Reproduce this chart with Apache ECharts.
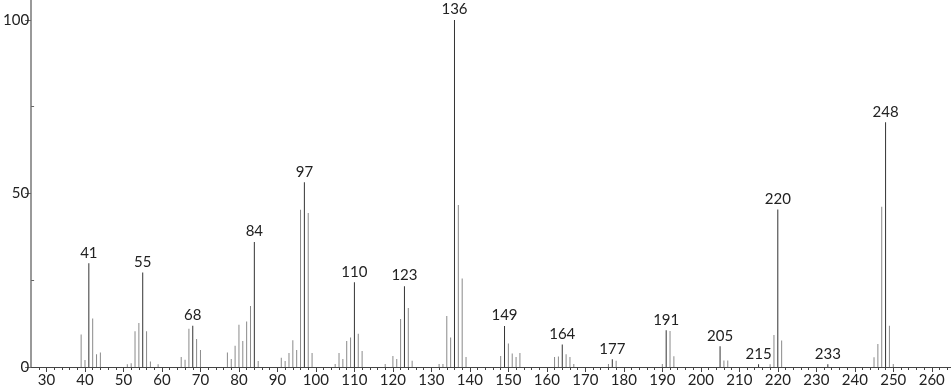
<!DOCTYPE html>
<html>
<head>
<meta charset="utf-8">
<script src="https://cdn.jsdelivr.net/npm/echarts@6/dist/echarts.min.js"></script>
<style>
html,body{margin:0;padding:0;background:#fff;}
#c{width:951px;height:389px;}
</style>
</head>
<body>
<div id="c"></div>
<script>
const mz = [39,40,41,42,43,44,51,52,53,54,55,56,57,59,65,66,67,68,69,70,77,78,79,80,81,82,83,84,85,91,92,93,94,95,96,97,98,99,105,106,107,108,109,110,111,112,118,120,121,122,123,124,125,132,133,134,135,136,137,138,139,148,149,150,151,152,153,162,163,164,165,166,167,176,177,178,190,191,192,193,205,206,207,215,218,219,220,221,233,245,246,247,248,249,250];
const intensity = [9.4,2.0,29.9,14.0,3.7,4.2,0.8,1.1,10.3,12.7,27.2,10.3,1.6,0.8,2.9,2.1,11.0,11.9,8.1,4.9,4.2,2.3,6.1,12.2,7.5,13.1,17.6,36.0,1.7,2.7,1.7,4.0,7.7,4.9,45.3,53.2,44.4,4.0,0.9,4.0,2.3,7.5,8.5,24.4,9.6,4.6,0.9,3.2,2.3,13.8,23.3,17.0,1.8,0.9,0.9,14.7,8.5,100,46.7,25.5,2.9,3.2,11.8,6.8,3.9,2.9,4.0,2.9,3.0,6.5,3.7,2.9,0.9,0.9,2.2,1.8,0.9,10.6,10.4,3.1,6.0,1.9,1.9,0.8,0.8,9.2,45.4,7.6,0.8,2.8,6.6,46.2,70.5,11.9,0.9];
const labeledPeaks = [41,55,68,84,97,110,123,136,149,164,177,191,205,215,220,233,248];
const xTickLabels = [30,40,50,60,70,80,90,100,110,120,130,140,150,160,170,180,190,200,210,220,230,240,250,260];
const yTickLabels = [0,50,100];
const yMinorTicks = [25,75];

const xMinor = [];
for (let v = 28; v <= 264; v += 2) if (v % 10 !== 0) xMinor.push(v);

const FONT = 'Lato';
const data = mz.map((m, i) => {
  const lab = labeledPeaks.indexOf(m) >= 0;
  return {
    value: [m, intensity[i]],
    itemStyle: { color: lab ? '#333' : '#8a8a8a' },
    label: { show: lab }
  };
});

const chart = echarts.init(document.getElementById('c'), null, {renderer: 'canvas'});
chart.setOption({
  animation: false,
  backgroundColor: '#fff',
  grid: { left: 29, right: 0, top: 0, bottom: 22, containLabel: false },
  xAxis: [{
    type: 'value', min: 26, max: 265,
    axisLine: { show: true, lineStyle: { color: '#444', width: 1 } },
    axisTick: { show: true, length: 5, customValues: xTickLabels, lineStyle: { color: '#444' } },
    axisLabel: { customValues: xTickLabels, color: '#222', fontFamily: FONT, fontSize: 15, margin: 6 },
    splitLine: { show: false }
  }, {
    type: 'value', min: 26, max: 265, position: 'bottom',
    axisLine: { show: false },
    axisTick: { show: true, length: 3, customValues: xMinor, lineStyle: { color: '#444' } },
    axisLabel: { show: false },
    splitLine: { show: false }
  }],
  yAxis: [{
    type: 'value', min: 0, max: 105.75,
    axisLine: { show: true, lineStyle: { color: '#999', width: 2 } },
    axisTick: { show: true, length: 6, customValues: yTickLabels, lineStyle: { color: '#666' } },
    axisLabel: { customValues: yTickLabels, color: '#222', fontFamily: FONT, fontSize: 15, margin: 2 },
    splitLine: { show: false }
  }, {
    type: 'value', min: 0, max: 105.75, position: 'left',
    axisLine: { show: false },
    axisTick: { show: true, inside: true, length: 3, customValues: yMinorTicks, lineStyle: { color: '#666' } },
    axisLabel: { show: false },
    splitLine: { show: false }
  }],
  series: [{
    type: 'bar',
    xAxisIndex: 0, yAxisIndex: 0,
    barWidth: 1,
    data: data,
    label: {
      position: 'top', distance: 3,
      formatter: p => String(p.value[0]),
      color: '#222', fontFamily: FONT, fontSize: 15
    }
  }]
});
</script>
</body>
</html>
